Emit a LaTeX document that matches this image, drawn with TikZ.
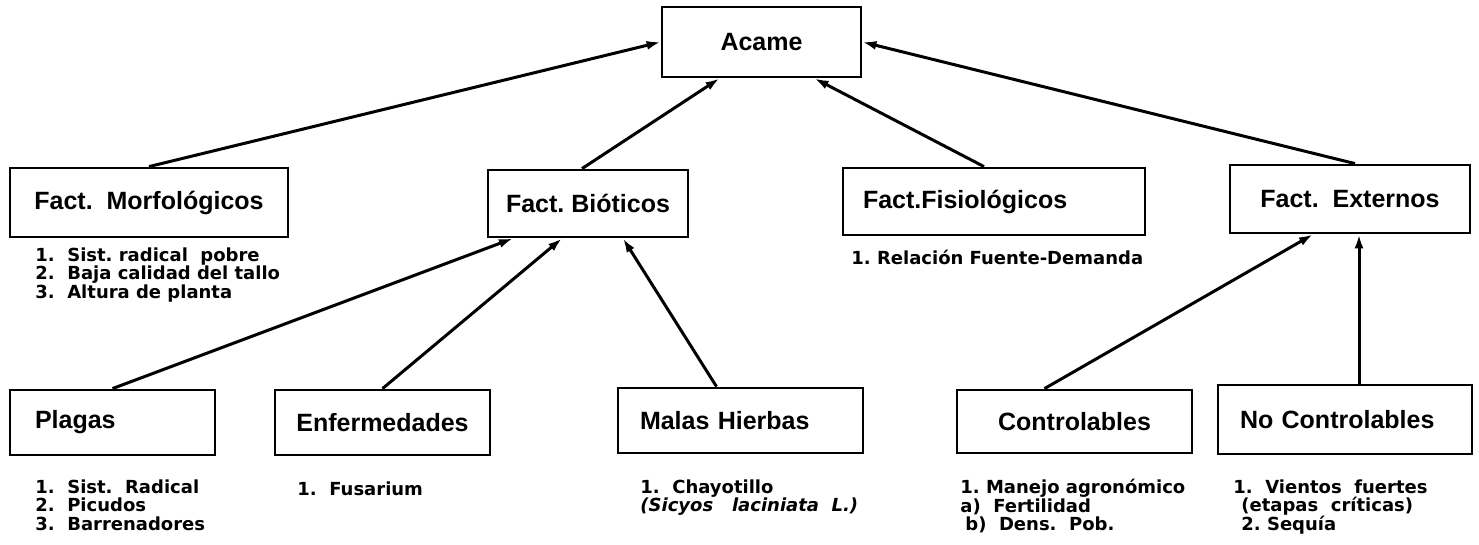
\documentclass[tikz,border=0pt]{standalone}
\usepackage{fontspec}
\setmainfont{Liberation Sans}
\newfontfamily\listfont{DejaVu Sans}
\usetikzlibrary{arrows.meta}

\tikzset{
  box/.style={draw, line width=1.4pt, inner sep=0pt,
    font=\fontsize{12.5}{15}\selectfont\bfseries},
  lbox/.style={box, align=left, text width=#1},
  list/.style={anchor=north west, inner sep=0pt, align=left,
    font=\listfont\fontsize{9}{9.3}\selectfont\bfseries,
    execute at begin node=\rule{0pt}{8pt}},
  link/.style={->, line width=1.5pt},
}

\begin{document}
\begin{tikzpicture}[x=0.5pt,y=-0.5pt,>={Latex[length=7pt,width=4.5pt]}]
    \useasboundingbox (0,0) rectangle (1479,545);
    % top
    \node [box, minimum width=99.5pt, minimum height=35pt] (acame) at (761.5,42) {Acame};
    % second row
    \node [box, minimum width=139pt, minimum height=34.5pt] (morf) at (149,202.5) {Fact.\ \ Morfológicos};
    \node [box, minimum width=100pt, minimum height=33.5pt] (biot) at (588,203.5) {Fact.\ Bióticos};
    \node [lbox=131pt, inner xsep=10pt, minimum height=33.5pt] (fisio) at (994,201.5) {Fact.Fisiológicos};
    \node [box, minimum width=120pt, minimum height=34pt] (ext) at (1350,199) {Fact.\ \ Externos};
    % third row
    \node [lbox=77.5pt, inner xsep=12.5pt, minimum height=32.5pt] (plagas) at (112.5,422.5) {Plagas};
    \node [box, minimum width=107.5pt, minimum height=32.5pt] (enf) at (382.5,422.5) {Enfermedades};
    \node [lbox=100.5pt, inner xsep=11pt, minimum height=32.5pt] (malas) at (740.5,420.5) {Malas Hierbas};
    \node [box, minimum width=117.5pt, minimum height=31.5pt] (contr) at (1074.5,421.5) {Controlables};
    \node [lbox=105pt, inner xsep=11pt, minimum height=34.5pt] (nocontr) at (1345,419.5) {No Controlables};

    % lists
    \node [list] (morfL) at (35,247) {1.\ \ Sist.\ radical\ \ pobre\\
                                      2.\ \ Baja\ calidad\ del\ tallo\\
                                      3.\ \ Altura de planta};
    \node [list] (fisioL) at (851,248) {1.\ Relación\ Fuente-Demanda};
    \node [list] (plagasL) at (35,479) {1.\ \ Sist.\ \ Radical\\
                                        2.\ \ Picudos\\
                                        3.\ \ Barrenadores};
    \node [list] (enfL) at (297,479) {1.\ \ Fusarium};
    \node [list] (malasL) at (640,479) {1.\ \ Chayotillo\\
                                        \itshape (Sicyos\ \ \ laciniata\ \ L.)};
    \node [list] (contrL) at (960,479) {1.\ Manejo\ agronómico\\
                                        a)\ \ Fertilidad\\
                                        \hspace*{2.5pt}b)\ \ Dens.\ \ Pob.};
    \node [list] (nocontrL) at (1233,479) {1.\ \ Vientos\ \ fuertes\\
                                           \hspace*{4pt}(etapas\ \ críticas)\\
                                           \hspace*{4pt}2.\ Sequía};

    % arrows
    \draw [link] (morf.north) -- (acame.west);
    \draw [link] ([xshift=-3pt]biot.north) -- ([xshift=-21pt]acame.south);
    \draw [link] ([xshift=-5pt]fisio.north) -- ([xshift=26.5pt]acame.south);
    \draw [link] ([xshift=2.5pt]ext.north) -- (acame.east);
    \draw [link] (plagas.north) -- ([xshift=-37.5pt]biot.south);
    \draw [link] (enf.north) -- ([xshift=-13pt]biot.south);
    \draw [link] ([xshift=-12pt]malas.north) -- ([xshift=17.5pt]biot.south);
    \draw [link] ([xshift=-15pt]contr.north) -- ([xshift=-18.5pt]ext.south);
    \draw [link] ([xshift=7pt]nocontr.north) -- ([xshift=4.5pt]ext.south);
\end{tikzpicture}
\end{document}
